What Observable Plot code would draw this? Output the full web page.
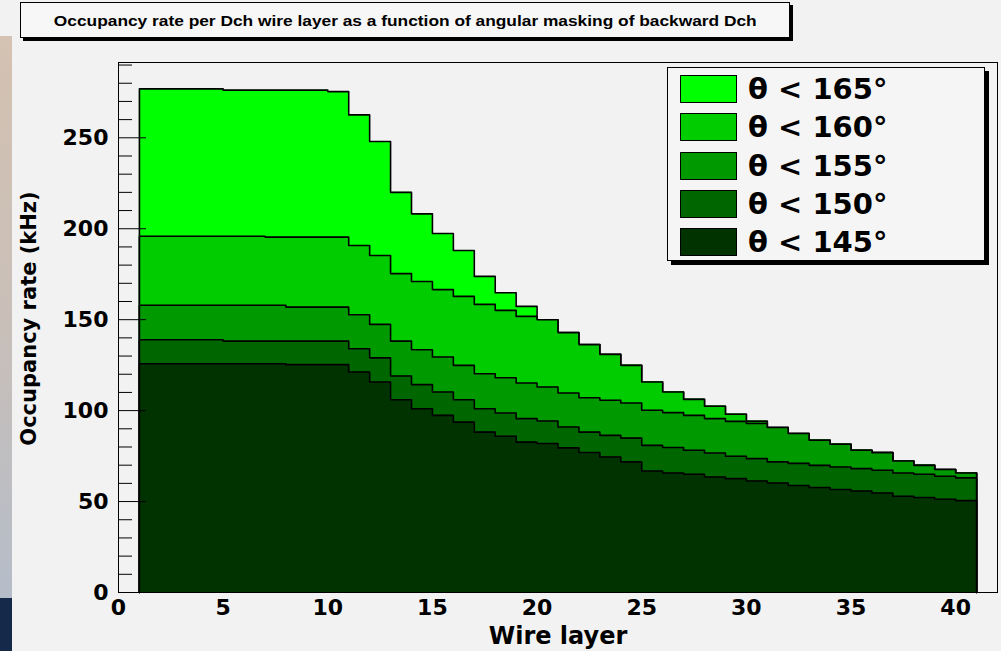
<!DOCTYPE html>
<html><head><meta charset="utf-8">
<script src="https://cdn.jsdelivr.net/npm/d3@7"></script>
<script src="https://cdn.jsdelivr.net/npm/@observablehq/plot@0.6"></script>
<style>
html,body{margin:0;padding:0;background:#f2f2f2;}
#root{position:relative;width:1001px;height:651px;overflow:hidden;background:#f2f2f2;font-family:"DejaVu Sans",sans-serif;color:#000;}
#chart{position:absolute;left:0;top:0;}
#title{position:absolute;left:20px;top:2px;width:768px;height:34px;background:#f7f7f7;border:1px solid #000;box-shadow:3px 3px 0 #000;font-family:"Liberation Sans",Arial,sans-serif;font-weight:bold;font-size:15px;display:flex;align-items:center;justify-content:center;white-space:nowrap;}
#title span{display:inline-block;transform:scaleX(1.155);transform-origin:center;}
#legend{position:absolute;left:667px;top:67px;width:316px;height:192px;background:#f5f5f5;border:1px solid #000;box-shadow:4px 4px 0 #000;}
.entry{position:absolute;left:12px;height:28px;display:flex;align-items:center;}
.sw{width:55px;height:26px;border:1px solid #000;box-sizing:content-box;}
.lab{margin-left:11px;font-weight:bold;font-size:29px;line-height:28px;white-space:nowrap;}
#stripA{position:absolute;left:0;top:36px;width:12px;height:562px;background:linear-gradient(#d4c2b2,#c9bfb8 50%,#b5bdc9);}
#stripB{position:absolute;left:0;top:598px;width:12px;height:53px;background:#15294a;}
</style></head>
<body><div id="root">
<div id="stripA"></div><div id="stripB"></div>
<div id="chart"></div>
<div id="title"><span id="titleText"></span></div>
<div id="legend"></div>
</div>
<script>
const titleText = "Occupancy rate per Dch wire layer as a function of angular masking of backward Dch";
const xLabel = "Wire layer";
const yLabel = "Occupancy rate (kHz)";
const layers = [1,2,3,4,5,6,7,8,9,10,11,12,13,14,15,16,17,18,19,20,21,22,23,24,25,26,27,28,29,30,31,32,33,34,35,36,37,38,39,40];
const seriesLabels = ["θ < 165°","θ < 160°","θ < 155°","θ < 150°","θ < 145°"];
const seriesColors = ["#00ff00","#00cc00","#009900","#006600","#003300"];
const rate165 = [276.9,276.9,276.9,276.9,276.2,276.2,276.2,276.2,276.2,275.4,262.6,248.0,220.0,208.2,197.4,188.0,173.8,164.8,157.3,150.0,142.9,136.3,130.9,124.9,115.7,110.2,106.2,102.4,98.0,94.1,90.7,87.4,83.7,81.5,78.2,76.9,72.3,69.9,67.6,65.7];
const rate160 = [195.9,195.9,195.9,195.9,195.9,195.9,195.4,195.4,195.4,195.4,190.8,185.3,175.3,171.0,166.5,162.8,158.4,155.1,151.8,150.0,142.9,136.3,130.9,124.9,115.7,110.2,106.2,102.4,98.0,94.1,90.7,87.4,83.7,81.5,78.2,76.9,72.3,69.9,67.6,65.7];
const rate155 = [157.9,157.9,157.9,157.9,157.9,157.9,157.9,156.9,156.9,156.9,152.7,147.4,138.2,133.5,129.5,124.9,120.3,118.1,115.2,113.0,109.7,107.1,105.7,104.2,100.2,98.9,97.4,95.6,94.1,92.9,90.7,87.4,83.7,81.5,78.2,76.9,72.3,69.9,67.6,65.7];
const rate150 = [139.0,139.0,139.0,139.0,138.2,138.2,138.2,138.2,138.2,138.2,134.0,129.0,119.0,114.3,110.2,106.0,101.0,98.7,95.6,94.3,91.0,88.2,86.4,84.9,80.9,79.7,78.2,76.7,74.9,73.6,71.8,71.0,69.9,69.0,68.1,67.2,65.7,65.0,63.9,63.0];
const rate145 = [125.8,125.8,125.8,125.8,125.8,125.8,125.8,125.3,125.3,125.3,121.2,115.7,106.0,101.0,97.4,93.7,88.2,85.9,82.7,81.9,79.5,77.0,74.5,71.8,66.8,65.7,65.0,63.5,62.6,61.3,60.2,58.8,57.7,56.6,55.8,54.7,52.9,52.2,51.3,50.5];
const xTicks = [0,5,10,15,20,25,30,35,40];
const yTicks = [0,50,100,150,200,250];
const yMinorTicks = [10,20,30,40,60,70,80,90,110,120,130,140,160,170,180,190,210,220,230,240,260,270,280,290];

const seriesValues = [rate165, rate160, rate155, rate150, rate145];
const lastEdge = layers[layers.length - 1] + 1;
function stepPoints(vals) {
  const pts = layers.map((l, i) => ({x: l, y: vals[i]}));
  pts.push({x: lastEdge, y: vals[vals.length - 1]});
  return pts;
}
function outlinePoints(vals) {
  return [{x: layers[0], y: 0}, ...stepPoints(vals), {x: lastEdge, y: 0}];
}

const marks = [];
seriesValues.forEach((vals, i) => {
  marks.push(Plot.areaY(stepPoints(vals), {x: "x", y: "y", curve: "step-after", fill: seriesColors[i]}));
  marks.push(Plot.line(outlinePoints(vals), {x: "x", y: "y", curve: "step-after", stroke: "#000", strokeWidth: 1.6}));
});
marks.push(Plot.frame({stroke: "#000", strokeWidth: 1}));
marks.push(Plot.axisY({ticks: yMinorTicks, tickSize: 14, dx: 14, tickFormat: () => "", label: null, stroke: "#000"}));
marks.push(Plot.axisY({ticks: yTicks, tickSize: 28, dx: 28, tickFormat: () => "", label: null, stroke: "#000"}));
marks.push(Plot.axisY({ticks: yTicks, tickSize: 0, tickPadding: 10, fontSize: 22, fontWeight: "bold", label: null}));
marks.push(Plot.axisX({ticks: xTicks, tickSize: 0, tickPadding: 7, fontSize: 22, fontWeight: "bold", label: null}));
marks.push(Plot.text([yLabel], {frameAnchor: "left", textAnchor: "middle", lineAnchor: "middle", dx: -89, dy: -9, rotate: -90, text: d => d, fontSize: 21, fontWeight: "bold", fill: "#000"}));
marks.push(Plot.text([xLabel], {frameAnchor: "bottom", textAnchor: "middle", lineAnchor: "middle", dy: 44, text: d => d, fontSize: 24, fontWeight: "bold", fill: "#000"}));

const chart = Plot.plot({
  width: 1001, height: 651,
  marginLeft: 118, marginRight: 4, marginTop: 62, marginBottom: 59,
  x: {domain: [0, 42]},
  y: {domain: [0, 291.4]},
  style: {background: "transparent", fontFamily: "DejaVu Sans", fontWeight: "bold", color: "#000"},
  marks
});
document.getElementById("chart").appendChild(chart);
document.getElementById("titleText").textContent = titleText;

const legend = document.getElementById("legend");
const rowTops = [7, 45, 84, 122, 160];
seriesLabels.forEach((lab, i) => {
  const e = document.createElement("div");
  e.className = "entry";
  e.style.top = rowTops[i] + "px";
  const sw = document.createElement("div");
  sw.className = "sw";
  sw.style.background = seriesColors[i];
  const t = document.createElement("span");
  t.className = "lab";
  t.textContent = lab;
  e.appendChild(sw); e.appendChild(t);
  legend.appendChild(e);
});
</script>
</body></html>
